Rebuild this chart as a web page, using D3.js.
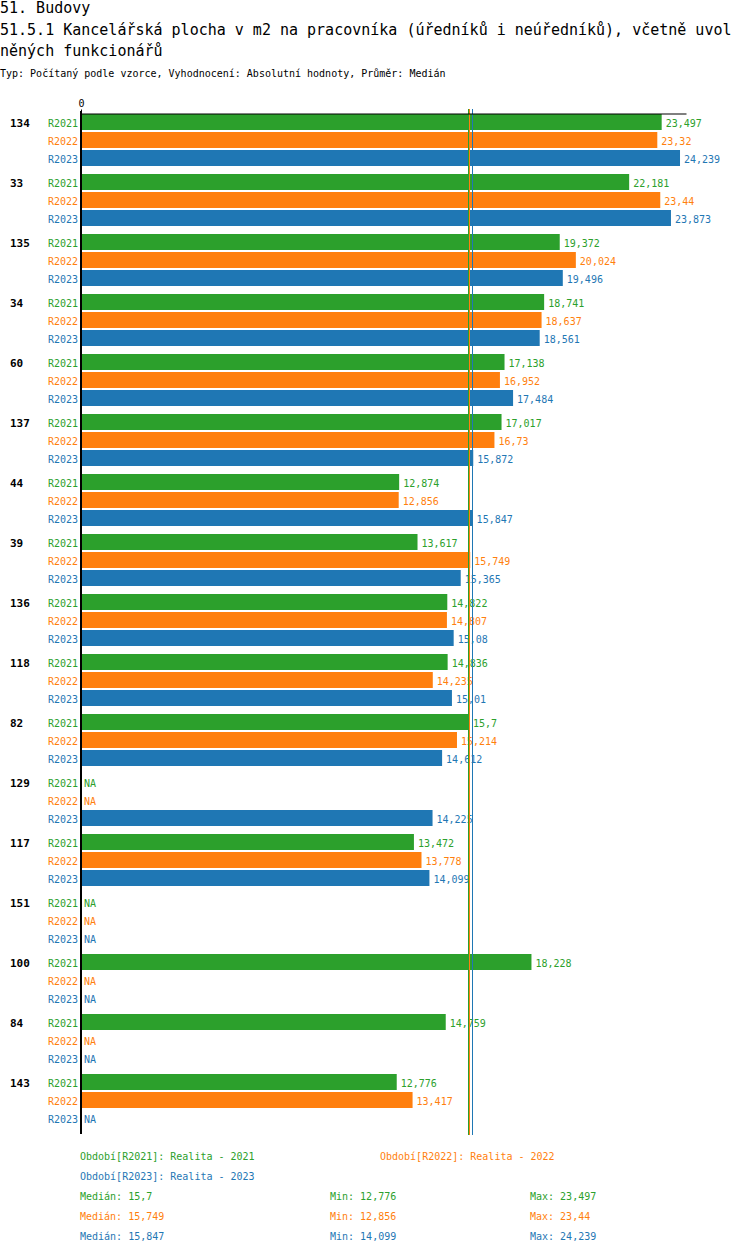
<!DOCTYPE html>
<html>
<head>
<meta charset="utf-8">
<script src="https://cdn.jsdelivr.net/npm/d3@7"></script>
<style>
  body { margin: 0; background: #fff; }
  text { font-family: "DejaVu Sans Mono", monospace; }
</style>
</head>
<body>
<div id="container"></div>
<script>
"use strict";

// chart data (null = NA)
const categories = ["134", "33", "135", "34", "60", "137", "44", "39", "136", "118", "82", "129", "117", "151", "100", "84", "143"];
const seriesNames = ["R2021", "R2022", "R2023"];
const r2021 = [23.497, 22.181, 19.372, 18.741, 17.138, 17.017, 12.874, 13.617, 14.822, 14.836, 15.7, null, 13.472, null, 18.228, 14.759, 12.776];
const r2022 = [23.32, 23.44, 20.024, 18.637, 16.952, 16.73, 12.856, 15.749, 14.807, 14.235, 15.214, null, 13.778, null, null, null, 13.417];
const r2023 = [24.239, 23.873, 19.496, 18.561, 17.484, 15.872, 15.847, 15.365, 15.08, 15.01, 14.612, 14.225, 14.099, null, null, null, null];
const legendNames = ["Období[R2021]: Realita - 2021", "Období[R2022]: Realita - 2022", "Období[R2023]: Realita - 2023"];
const medians = [15.7, 15.749, 15.847];
const mins = [12.776, 12.856, 14.099];
const maxs = [23.497, 23.44, 24.239];

const colors = ["#2ca02c", "#ff7f0e", "#1f77b4"];
const seriesValues = [r2021, r2022, r2023];
const fmt = v => String(v).replace(".", ",");

const W = 750, H = 1254;
const plotLeft = 81, plotW = 605, plotTop = 114;
const plotBottom = plotTop + 60 * categories.length;

const svg = d3.select("#container").append("svg")
  .attr("width", W).attr("height", H);

// titles
const titles = [
  { t: "51. Budovy", y: 13, s: 15 },
  { t: "51.5.1 Kancelářská plocha v m2 na pracovníka (úředníků i neúředníků), včetně uvol", y: 35, s: 15 },
  { t: "něných funkcionářů", y: 56, s: 15 },
  { t: "Typ: Počítaný podle vzorce, Vyhodnocení: Absolutní hodnoty, Průměr: Medián", y: 77, s: 10 }
];
svg.selectAll(".title").data(titles).enter().append("text")
  .attr("class", "title")
  .attr("x", 0).attr("y", d => d.y)
  .attr("font-size", d => d.s)
  .attr("fill", "#000")
  .text(d => d.t);

// scales
const allMax = d3.max(seriesValues.flat());
const x = d3.scaleLinear().domain([0, allMax * 1.01]).range([plotLeft, plotLeft + plotW]);
const y0 = d3.scaleBand().domain(categories).range([plotTop, plotBottom]);
const y1 = d3.scaleBand().domain(seriesNames).range([0, 52]).paddingInner(2 / 18);

const g = svg.append("g");

// rows
const rows = [];
categories.forEach((c, i) => {
  seriesNames.forEach((s, j) => {
    rows.push({ cat: c, ser: s, j: j, v: seriesValues[j][i] });
  });
});

// category labels
g.selectAll(".cat").data(categories).enter().append("text")
  .attr("x", 10)
  .attr("y", d => y0(d) + y1.bandwidth() / 2 + 5)
  .attr("font-size", 11).attr("font-weight", "bold")
  .text(d => d);

// series labels
g.selectAll(".ser").data(rows).enter().append("text")
  .attr("x", 78).attr("text-anchor", "end")
  .attr("y", d => y0(d.cat) + y1(d.ser) + y1.bandwidth() / 2 + 5)
  .attr("font-size", 10)
  .attr("fill", d => colors[d.j])
  .text(d => d.ser);

// bars
g.selectAll(".bar").data(rows.filter(d => d.v != null)).enter().append("rect")
  .attr("x", x(0))
  .attr("y", d => y0(d.cat) + y1(d.ser))
  .attr("width", d => x(d.v) - x(0))
  .attr("height", y1.bandwidth())
  .attr("fill", d => colors[d.j]);

// value labels
g.selectAll(".val").data(rows).enter().append("text")
  .attr("x", d => d.v == null ? x(0) + 3 : x(d.v) + 4)
  .attr("y", d => y0(d.cat) + y1(d.ser) + y1.bandwidth() / 2 + 5)
  .attr("font-size", 10)
  .attr("fill", d => colors[d.j])
  .text(d => d.v == null ? "NA" : fmt(d.v));

// median lines
g.selectAll(".med").data(medians).enter().append("line")
  .attr("x1", d => Math.round(x(d)) - 0.5).attr("x2", d => Math.round(x(d)) - 0.5)
  .attr("y1", plotTop - 5).attr("y2", plotBottom + 1)
  .attr("stroke", (d, i) => colors[i])
  .attr("stroke-width", 1);

// top axis
const axTop = g.append("g")
  .attr("transform", "translate(0," + (plotTop - 0.5) + ")")
  .call(d3.axisTop(x).tickValues([0]).tickSize(4).tickSizeOuter(0));
axTop.select(".domain").attr("stroke", "#000");
axTop.selectAll("text").attr("font-size", 10).attr("font-family", "DejaVu Sans Mono");

// left axis
g.append("line")
  .attr("x1", plotLeft).attr("x2", plotLeft)
  .attr("y1", plotTop - 3).attr("y2", plotBottom)
  .attr("stroke", "#000").attr("stroke-width", 2);

// legend
const leg = [
  { t: legendNames[0], x: 80, y: 1160, c: 0 },
  { t: legendNames[1], x: 380, y: 1160, c: 1 },
  { t: legendNames[2], x: 80, y: 1180, c: 2 }
];
seriesNames.forEach((s, i) => {
  leg.push({ t: "Medián: " + fmt(medians[i]), x: 80, y: 1200 + 20 * i, c: i });
  leg.push({ t: "Min: " + fmt(mins[i]), x: 330, y: 1200 + 20 * i, c: i });
  leg.push({ t: "Max: " + fmt(maxs[i]), x: 530, y: 1200 + 20 * i, c: i });
});
svg.selectAll(".leg").data(leg).enter().append("text")
  .attr("x", d => d.x).attr("y", d => d.y)
  .attr("font-size", 10)
  .attr("fill", d => colors[d.c])
  .text(d => d.t);
</script>
</body>
</html>
